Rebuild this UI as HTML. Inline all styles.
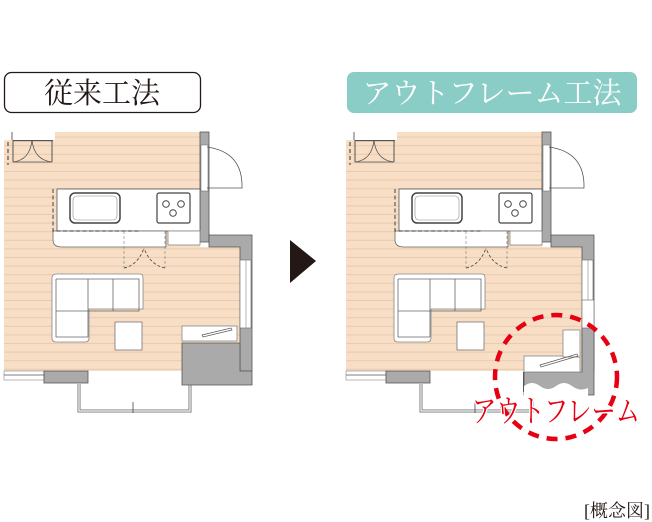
<!DOCTYPE html>
<html><head><meta charset="utf-8"><style>
html,body{margin:0;padding:0;background:#fff;width:652px;height:522px;overflow:hidden}
svg{display:block}
.t{font-family:"Liberation Serif","Noto Serif CJK SC",serif}
</style></head><body>
<svg width="652" height="522" viewBox="0 0 652 522" xmlns="http://www.w3.org/2000/svg">
<defs>
<pattern id="st" width="10" height="8.6" patternUnits="userSpaceOnUse">
<rect width="10" height="8.6" fill="#f7dec4"/>
<rect y="7.6" width="10" height="1" fill="#e6cbb3"/>
</pattern>
<g id="common">
  <path d="M4 140 H55 V132 H200 V247 H240 V371 H4 Z" fill="url(#st)"/>
  <line x1="12" y1="132" x2="12" y2="140" stroke="#666" stroke-width="1"/>
  <rect x="13" y="140" width="40" height="1.2" fill="#555"/>
  <line x1="13" y1="140" x2="13" y2="162" stroke="#555" stroke-width="1"/>
  <line x1="52" y1="140" x2="52" y2="162" stroke="#555" stroke-width="1"/>
  <line x1="13" y1="162" x2="52" y2="162" stroke="#555" stroke-width="0.8"/>
  <path d="M13 162 Q30 160 32 140 M52 162 Q34 160 32 140" stroke="#555" fill="none" stroke-width="0.8"/>
  <line x1="8" y1="142" x2="8" y2="165" stroke="#333" stroke-width="1" stroke-dasharray="4 3"/>
  <rect x="200" y="132" width="9" height="110" fill="#aaa" stroke="#555" stroke-width="0.8"/>
  <rect x="201" y="145" width="7" height="46" fill="#fff" stroke="#777" stroke-width="0.6"/>
  <path d="M207 147 Q243 152 242 188 L207 188" fill="none" stroke="#555" stroke-width="0.8"/>
  <path d="M209 235 H252 V371 H240 V247 H209 Z" fill="#aaa" stroke="#555" stroke-width="0.8"/>
  <rect x="240" y="260" width="11" height="68" fill="#fff" stroke="#777" stroke-width="0.7"/>
  <line x1="246" y1="260" x2="246" y2="328" stroke="#888" stroke-width="0.6"/>
  <rect x="57" y="189" width="143" height="42" fill="#fff" stroke="#555" stroke-width="0.8"/>
  <path d="M53 231 H166 V247 H62 Q53 247 53 240 Z" fill="#fff" stroke="#666" stroke-width="0.8"/>
  <rect x="168" y="231" width="32" height="14" fill="#fff" stroke="#888" stroke-width="0.8"/>
  <path d="M53 189 V231 H140" fill="none" stroke="#333" stroke-dasharray="4 2.5" stroke-width="0.9"/>
  <rect x="70" y="193" width="50" height="30" rx="5" fill="#fff" stroke="#444" stroke-width="1.5"/>
  <rect x="73" y="196" width="44" height="24" rx="4" fill="none" stroke="#888" stroke-width="0.6"/>
  <rect x="157" y="193" width="33" height="30" rx="2" fill="#fff" stroke="#444" stroke-width="1.2"/>
  <circle cx="166" cy="204" r="3.3" fill="none" stroke="#444"/>
  <circle cx="181" cy="204" r="3.3" fill="none" stroke="#444"/>
  <circle cx="173" cy="213" r="3.3" fill="none" stroke="#444"/>
  <path d="M124 231 V268 M165 231 V268" stroke="#888" stroke-width="0.7" stroke-dasharray="3 2"/>
  <path d="M124 268 Q138 265 144 248 M165 268 Q150 265 144 248" stroke="#444" fill="none" stroke-width="0.8" stroke-dasharray="3 2"/>
  <path d="M57 274 H140 Q143 274 143 278 V309 H89 V338 Q89 342 85 342 H56 Q52 342 52 338 V278 Q52 274 57 274 Z" fill="#fff" stroke="#888" stroke-width="0.8"/>
  <path d="M56 279 H139 V311 H88 M56 311 H88 V337 H56 Z M56 279 V337 M88 279 V311 M113 279 V311" fill="none" stroke="#666" stroke-width="0.8"/>
  <rect x="115" y="322" width="27" height="28" fill="#fff" stroke="#777" stroke-width="0.8"/>
  <rect x="4" y="371" width="40" height="9" fill="#fff" stroke="#888" stroke-width="0.6"/>
  <line x1="4" y1="375" x2="44" y2="375" stroke="#555" stroke-width="0.8"/>
  <rect x="44" y="371" width="44" height="12" fill="#aaa" stroke="#555" stroke-width="0.8"/>
  <path d="M79 384 V411 H190 V384" fill="none" stroke="#777" stroke-width="3"/>
  <path d="M79 384 V411 H190 V384" fill="none" stroke="#fff" stroke-width="1.2"/>
  <line x1="133" y1="402" x2="133" y2="413" stroke="#444" stroke-width="0.8"/>
</g>
</defs>

<rect x="4.5" y="72.5" width="196" height="40" rx="7" fill="#fff" stroke="#231815" stroke-width="1.3"/>
<text x="102" y="103" text-anchor="middle" class="t" font-size="29" fill="#231815">従来工法</text>
<rect x="347" y="72" width="290" height="41" rx="7" fill="#8acdc6"/>
<text x="492" y="103" text-anchor="middle" class="t" font-size="29" fill="#fff">アウトフレーム工法</text>

<use href="#common"/>
<path d="M182 343 H240 V371 H252 V385 H182 Z" fill="#aaa" stroke="#555" stroke-width="0.8"/>
<rect x="182" y="326" width="55" height="15" fill="#fff" stroke="#888" stroke-width="0.8"/>
<path d="M202 335 L231 328 L232 330 L203 337 Z" fill="none" stroke="#555" stroke-width="0.7"/>

<path d="M290 240 L316 261 L290 283 Z" fill="#231815"/>

<g transform="translate(342,0)"><use href="#common"/></g>
<path d="M582 327 H594 V395 L524 395 V372 H582 Z" fill="#aaa" stroke="#555" stroke-width="0.8"/>
<path d="M524 386 Q532 380 540 386 T556 386 T572 386 T588 388 V398 H524 Z" fill="#fff"/>
<rect x="524" y="356" width="56" height="16" fill="#fff" stroke="#888" stroke-width="0.8"/>
<rect x="563" y="330" width="17" height="27" fill="#fff" stroke="#888" stroke-width="0.8"/>
<path d="M540 365 L577 354 L578 356 L541 367 Z" fill="none" stroke="#555" stroke-width="0.7"/>
<rect x="582" y="300" width="12" height="28" fill="#fff" stroke="#777" stroke-width="0.7"/>
<rect x="523" y="372" width="1" height="20" fill="#555"/>

<ellipse cx="556" cy="377" rx="61" ry="62" fill="none" stroke="#e60012" stroke-width="4.5" stroke-dasharray="11 8"/>
<text x="472" y="422" textLength="168" lengthAdjust="spacingAndGlyphs" class="t" font-size="31" fill="#e60012" stroke="#fff" stroke-width="3" paint-order="stroke">アウトフレーム</text>

<text x="650" y="517" text-anchor="end" class="t" font-size="18" fill="#231815">[概念図]</text>
</svg>
</body></html>
